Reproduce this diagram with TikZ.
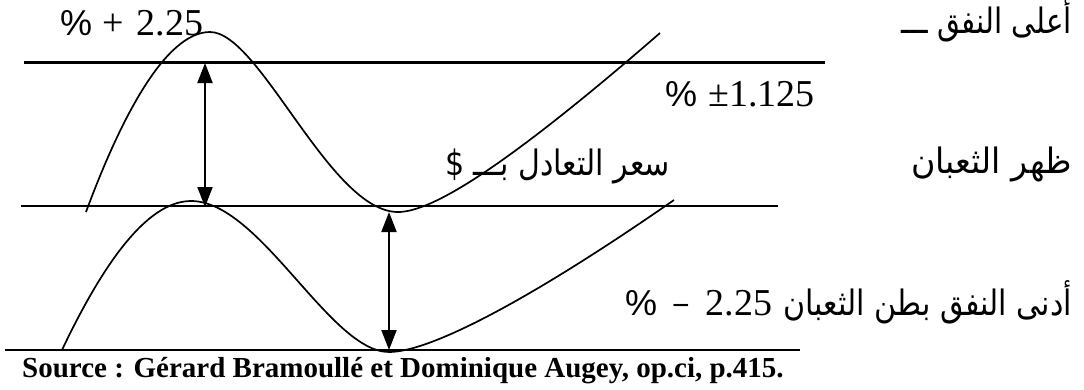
\documentclass[tikz,border=0pt]{standalone}
\usepackage{fontspec}
\usepackage{graphicx}
\setmainfont{Liberation Serif}
\newfontfamily\arabicfont[Script=Arabic]{DejaVu Sans}
\newfontfamily\sansf{Liberation Sans}
\TeXXeTstate=1
\usetikzlibrary{arrows.meta}
\newcommand{\pct}{{\sansf\fontsize{36}{38}\selectfont\%}}
\newcommand{\artext}[2]{\scalebox{#1}[1]{\arabicfont\fontsize{35}{38}\selectfont #2}}
\tikzset{
  lbl/.style={inner sep=0pt, font=\fontsize{38}{40}\selectfont},
  arlbl/.style={inner sep=0pt, anchor=base east},
  hline/.style={line width=2.1pt},
  wave/.style={line width=1.7pt},
  dimarrow/.style={line width=2pt, {Triangle[length=20pt,width=15pt]}-{Triangle[length=20pt,width=15pt]}},
}
\begin{document}
\begin{tikzpicture}[x=1pt,y=-1pt]
\useasboundingbox (0,0) rectangle (1084,389);
% horizontal lines
\coordinate (t1) at (24,62.5);  \coordinate (t2) at (825,62.5);
\coordinate (m1) at (21,206);   \coordinate (m2) at (778,206);
\coordinate (b1) at (5,350);    \coordinate (b2) at (800,350);
\draw[hline] (t1) -- (t2);
\draw[hline] (m1) -- (m2);
\draw[hline] (b1) -- (b2);
% upper wave
\coordinate (u0) at (86,212);
\coordinate (u1) at (210,32);
\coordinate (u2) at (398,212);
\coordinate (u3) at (660,33);
\draw[wave] (u0) .. controls (120,120) and (165,32) .. (u1)
  .. controls (260,32) and (330,212) .. (u2)
  .. controls (430,212) and (500,172) .. (u3);
% lower wave
\coordinate (l0) at (62,350);
\coordinate (l1) at (191,201);
\coordinate (l2) at (389,352);
\coordinate (l3) at (674,200);
\draw[wave] (l0) .. controls (100,270) and (145,201) .. (l1)
  .. controls (260,201) and (330,352) .. (l2)
  .. controls (430,352) and (530,300) .. (l3);
% arrows
\coordinate (a1t) at (205,63);
\coordinate (a1b) at (205,207);
\coordinate (a2t) at (389,212);
\coordinate (a2b) at (389,350);
\draw[dimarrow] (a1t) -- (a1b);
\draw[dimarrow] (a2t) -- (a2b);
% labels
\node[lbl, anchor=base west] (up) at (60,35) {\pct\hspace{10pt}+\hspace{13pt}2.25};
\node[lbl, anchor=base west] (band) at (665,106) {\pct\hspace{11pt}±1.125};
\node[lbl, anchor=base west] (down) at (625,315) {\pct\hspace{15pt}{\sansf\fontsize{30}{32}\selectfont −}\hspace{16pt}2.25};
\node[arlbl] (top) at (1072,33) {\artext{0.84}{\beginR أعلى النفق ـــ\endR}};
\node[arlbl] (back) at (1072,173) {\artext{0.95}{\beginR ظهر الثعبان\endR}};
\node[arlbl] (par) at (670,175) {\artext{0.86}{\beginR سعر التعادل بـــ \$\endR}};
\node[arlbl] (bot) at (1072,315) {\artext{0.86}{\beginR أدنى النفق بطن الثعبان\endR}};
\node[inner sep=0pt, anchor=base west, font=\bfseries\fontsize{29}{31}\selectfont] (src) at (22,377)
  {Source : Gérard Bramoullé et Dominique Augey, op.ci, p.415.};
\end{tikzpicture}
\end{document}
